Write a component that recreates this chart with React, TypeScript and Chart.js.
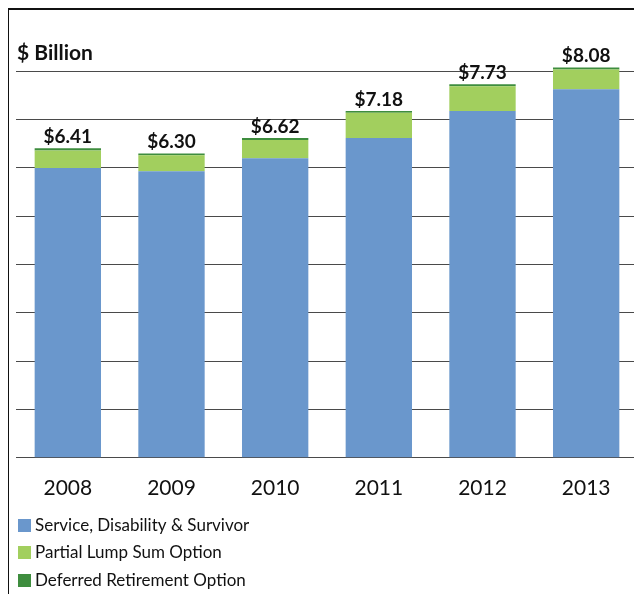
import React, { useEffect, useRef } from "react";
import { Chart, registerables } from "chart.js";

Chart.register(...registerables);

const years = ["2008", "2009", "2010", "2011", "2012", "2013"];
const serviceDisabilitySurvivor = [6.0, 5.93, 6.2, 6.62, 7.18, 7.63];
const partialLumpSum = [0.36, 0.33, 0.38, 0.52, 0.51, 0.41];
const deferredRetirement = [0.05, 0.04, 0.04, 0.04, 0.04, 0.04];
const seriesNames = [
  "Service, Disability & Survivor",
  "Partial Lump Sum Option",
  "Deferred Retirement Option",
];
const seriesColors = ["#6a97cc", "#a2cf5e", "#3e8d3e"];
const yMax = 9;
const gridTop = 8;
const unitTitle = "$ Billion";

const FONT = "Lato, 'Open Sans', sans-serif";

const overlayPlugin = {
  id: "overlay",
  afterDraw(chart: any) {
    const ctx = chart.ctx;
    const yScale = chart.scales.y;
    const meta = chart.getDatasetMeta(0);
    ctx.save();
    // title
    ctx.fillStyle = "#111";
    ctx.font = `bold 21px ${FONT}`;
    ctx.textAlign = "left";
    ctx.textBaseline = "middle";
    ctx.fillText(unitTitle, 8, 43);
    // totals
    ctx.font = `bold 19px ${FONT}`;
    ctx.textAlign = "center";
    ctx.textBaseline = "alphabetic";
    years.forEach((_, i) => {
      const total =
        serviceDisabilitySurvivor[i] + partialLumpSum[i] + deferredRetirement[i];
      const x = meta.data[i].x;
      const y = yScale.getPixelForValue(total);
      ctx.fillText("$" + total.toFixed(2), x, y - 5);
    });
    // legend
    ctx.font = `17px ${FONT}`;
    ctx.textAlign = "left";
    ctx.textBaseline = "middle";
    const rows = [516, 543, 571];
    chart.data.datasets.forEach((ds: any, i: number) => {
      ctx.fillStyle = ds.backgroundColor;
      ctx.fillRect(9, rows[i] - 7, 13, 13);
      ctx.fillStyle = "#111";
      ctx.fillText(ds.label, 26, rows[i]);
    });
    ctx.restore();
  },
};

export default function App() {
  const canvasRef = useRef<HTMLCanvasElement | null>(null);

  useEffect(() => {
    document.documentElement.style.overflow = "hidden";
    const canvas = canvasRef.current;
    if (!canvas) return;
    const data = [serviceDisabilitySurvivor, partialLumpSum, deferredRetirement];
    const chart = new Chart(canvas, {
      type: "bar",
      data: {
        labels: years,
        datasets: data.map((d, i) => ({
          label: seriesNames[i],
          data: d,
          backgroundColor: seriesColors[i],
          borderWidth: 0,
          barPercentage: 0.64,
          categoryPercentage: 1,
        })),
      },
      options: {
        animation: false,
        responsive: false,
        maintainAspectRatio: false,
        layout: { padding: { left: 7, right: 2, top: 13, bottom: 75 } },
        plugins: {
          legend: { display: false },
          tooltip: { enabled: false },
          title: { display: false },
        },
        scales: {
          x: {
            stacked: true,
            grid: { display: false, drawTicks: false },
            border: { display: false },
            ticks: {
              color: "#111",
              padding: 18,
              font: { family: FONT, size: 21 },
            },
          },
          y: {
            stacked: true,
            min: 0,
            max: yMax,
            border: { display: false },
            grid: {
              drawTicks: false,
              color: (c: any) =>
                c.tick && c.tick.value > gridTop ? "rgba(0,0,0,0)" : "#4a4a4a",
              lineWidth: 1,
            },
            ticks: { display: false, stepSize: 1 },
          },
        },
      },
      plugins: [overlayPlugin],
    });
    return () => chart.destroy();
  }, []);

  return (
    <div
      style={{
        marginLeft: -2,
        width: 631,
        height: 600,
        borderLeft: "3px solid #111",
        borderTop: "2px solid #111",
        borderRight: "2px solid #111",
        background: "#fff",
      }}
    >
      <canvas ref={canvasRef} width={631} height={584} style={{ display: "block" }} />
    </div>
  );
}
